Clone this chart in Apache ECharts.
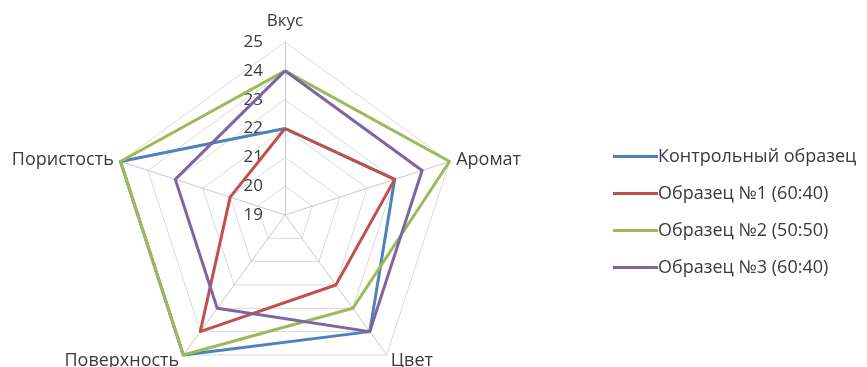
<!DOCTYPE html>
<html>
<head>
<meta charset="utf-8">
<script src="https://cdn.jsdelivr.net/npm/echarts@6/dist/echarts.min.js"></script>
<style>
  html, body { margin: 0; padding: 0; background: #fff; }
  #chart { width: 867px; height: 367px; }
</style>
</head>
<body>
<div id="chart"></div>
<script>
// Sensory criteria, listed clockwise from the top
const criteria = ['Вкус', 'Аромат', 'Цвет', 'Поверхность', 'Пористость'];
const seriesNames = ['Контрольный образец', 'Образец №1 (60:40)', 'Образец №2 (50:50)', 'Образец №3 (60:40)'];
const control  = [22, 23, 24, 25, 25];
const sample1  = [22, 23, 22, 24, 21];
const sample2  = [24, 25, 23, 25, 25];
const sample3  = [24, 24, 24, 23, 23];
const scaleMin = 19;
const scaleMax = 25;
const colors = ['#4F81BD', '#C0504D', '#9BBB59', '#8064A2'];

// ECharts lays indicators out counter-clockwise, so reverse everything after the first
function toCCW(arr) { return [arr[0]].concat(arr.slice(1).reverse()); }

const indicators = toCCW(criteria).map((name, i) => {
  const ind = { name: name, min: scaleMin, max: scaleMax };
  if (i === 0) ind.axisLabel = { show: true };
  return ind;
});

const values = [control, sample1, sample2, sample3];
const font = '"Open Sans", "Noto Sans", sans-serif';
const textColor = '#3A3A3A';

const chart = echarts.init(document.getElementById('chart'));
chart.setOption({
  animation: false,
  color: colors,
  legend: {
    orient: 'vertical',
    left: 608,
    top: 141,
    icon: 'rect',
    itemWidth: 45,
    itemHeight: 3,
    itemGap: 16,
    data: seriesNames,
    textStyle: { fontFamily: font, fontSize: 18, color: textColor, lineHeight: 21, padding: [0, 0, 0, -5] }
  },
  radar: {
    center: [285, 215],
    radius: 173,
    startAngle: 90,
    shape: 'polygon',
    splitNumber: 6,
    indicator: indicators,
    axisName: {
      color: textColor,
      fontFamily: font,
      fontSize: 18,
      verticalAlign: 'middle',
      formatter: function (name) {
        return name === criteria[0] ? '{t|' + name + '}' : name;
      },
      rich: { t: { fontFamily: font, fontSize: 17, color: textColor, padding: [0, 0, 28, 0] } }
    },
    nameGap: 7,
    axisLine: { lineStyle: { color: '#C8C8C8', width: 1 } },
    splitLine: { lineStyle: { color: '#D9D9D9', width: 1 } },
    splitArea: { show: false },
    axisTick: { show: false },
    axisLabel: { show: false, color: textColor, fontFamily: font, fontSize: 17, margin: 22 }
  },
  series: [{
    type: 'radar',
    symbol: 'none',
    lineStyle: { width: 3 },
    data: values.map((v, i) => ({
      name: seriesNames[i],
      value: toCCW(v),
      lineStyle: { color: colors[i], width: 3 },
      itemStyle: { color: colors[i] }
    }))
  }]
});
</script>
</body>
</html>
